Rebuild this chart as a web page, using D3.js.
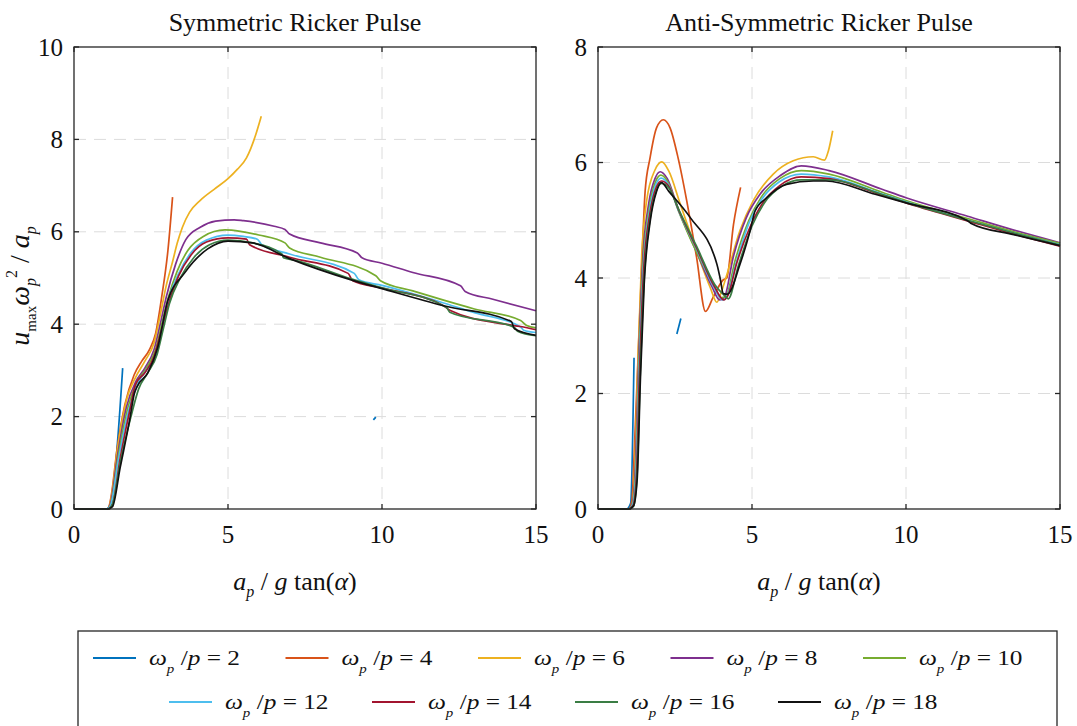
<!DOCTYPE html>
<html lang="en">
<head>
<meta charset="utf-8" />
<title>Ricker Pulse – u_max response</title>
<script src="https://d3js.org/d3.v7.min.js"></script>
<style>
  body { margin: 0; background: #fff; }
  svg { display: block; font-family: "Liberation Serif", "Times New Roman", serif; }
  .grid line { stroke: #dcdcdc; stroke-width: 1; stroke-dasharray: 12, 8; }
  .frame { fill: none; stroke: #262626; stroke-width: 1.3; }
  .tick { stroke: #262626; stroke-width: 1.3; }
  .series { fill: none; stroke-width: 1.7; stroke-linejoin: round; }
</style>
</head>
<body>
<div id="chart"></div>
<script>
/* ----------------------------- DATA ----------------------------- */
const ratios = [2, 4, 6, 8, 10, 12, 14, 16, 18];
const colors = ['#0072BD', '#D95319', '#EDB120', '#7E2F8E', '#77AC30',
                '#4DBEEE', '#A2142F', '#3A7D44', '#111111'];
const xTicks = [0, 5, 10, 15];
const symYTicks = [0, 2, 4, 6, 8, 10];
const antiYTicks = [0, 2, 4, 6, 8];

// Symmetric Ricker pulse  (null = gap in the curve)
const symW2 = [[0,0],[1.05,0],[1.2,0.15],[1.58,3.05],null,[9.72,1.93],[9.8,1.99]];
const symW4 = [[0,0],[1.1,0],[1.2,0.25],[1.4,1.3],[1.65,2.25],[1.95,2.9],[2.2,3.2],[2.45,3.45],
  [2.65,3.8],[2.85,4.6],[3.05,5.6],[3.2,6.75]];
const symW6 = [[0,0],[1.1,0],[1.2,0.2],[1.4,1.25],[1.7,2.35],[2.0,2.85],[2.3,3.2],[2.6,3.6],
  [2.8,4.2],[3.0,4.85],[3.2,5.35],[3.35,5.75],[3.52,6.1],[3.75,6.42],[4.1,6.68],[4.55,6.92],
  [5.0,7.15],[5.3,7.35],[5.6,7.6],[5.9,8.1],[6.08,8.5]];
const symW8 = [[0,0],[1.1,0],[1.2,0.15],[1.4,1.1],[1.7,2.2],[2.0,2.75],[2.3,3.05],[2.6,3.45],
  [2.8,4.0],[3.0,4.6],[3.3,5.3],[3.63,5.83],[4.1,6.1],[4.6,6.23],[5.2,6.26],[5.5,6.24],
  [6.5,6.12],[6.85,6.05],[7.0,5.95],[8.0,5.76],[9.2,5.54],[9.35,5.44],[10,5.32],[11,5.12],
  [12.55,4.83],[12.7,4.71],[13.6,4.54],[15,4.29]];
const symW10 = [[0,0],[1.1,0],[1.2,0.1],[1.45,1.2],[1.75,2.2],[2.05,2.75],[2.35,3.05],[2.65,3.45],
  [2.85,4.0],[3.05,4.55],[3.35,5.15],[3.7,5.6],[4.2,5.9],[4.9,6.04],[5.4,6.01],[6.0,5.93],
  [6.85,5.76],[7.0,5.65],[8.0,5.45],[9.8,5.05],[9.95,4.94],[11,4.72],[12,4.52],[13,4.33],
  [14.5,4.08],[14.7,3.97],[15,3.92]];
const symW12 = [[0,0],[1.1,0],[1.2,0.1],[1.45,1.1],[1.8,2.2],[2.1,2.75],[2.4,3.05],[2.65,3.3],
  [2.85,3.9],[3.05,4.5],[3.4,5.1],[3.8,5.55],[4.3,5.82],[5.0,5.93],[5.5,5.9],[5.95,5.84],
  [6.1,5.72],[7,5.52],[9.1,5.1],[9.25,4.96],[10,4.84],[12,4.46],[13,4.25],[14.5,3.94],
  [14.6,3.87],[15,3.82]];
const symW14 = [[0,0],[1.1,0],[1.25,0.1],[1.5,1.1],[1.8,2.1],[2.0,2.7],[2.3,2.95],[2.6,3.3],
  [2.85,3.9],[3.1,4.5],[3.4,5.05],[3.8,5.5],[4.3,5.78],[5.0,5.87],[5.6,5.84],[5.7,5.72],
  [7,5.45],[8.9,5.1],[9.05,4.94],[10,4.78],[12,4.4],[12.2,4.3],[14,4.0],[14.5,3.95],[15,3.88]];
const symW16 = [[0,0],[1.1,0],[1.25,0.1],[1.5,1.0],[1.85,2.0],[2.1,2.6],[2.4,2.95],[2.7,3.35],
  [2.9,3.9],[3.1,4.45],[3.45,5.0],[3.9,5.45],[4.4,5.72],[5.0,5.82],[5.8,5.76],[6.75,5.52],
  [6.8,5.44],[7.2,5.38],[9,4.98],[10,4.79],[12.1,4.36],[12.2,4.26],[14.3,3.93],[14.4,3.85],[15,3.75]];
const symW18 = [[0,0],[1.1,0],[1.25,0.05],[1.5,0.9],[1.8,1.9],[1.96,2.5],[2.05,2.65],[2.4,2.95],
  [2.72,3.5],[3.04,4.5],[3.58,5.1],[4.34,5.63],[5.0,5.8],[5.8,5.76],[7,5.42],[9,4.96],
  [10,4.77],[12,4.4],[14.2,4.06],[14.3,3.9],[15,3.76]];

// Anti-symmetric Ricker pulse
const antiW2 = [[0,0],[0.92,0],[1.06,0.1],[1.17,2.62],null,[2.56,3.03],[2.69,3.3]];
const antiW4 = [[0,0],[1.0,0],[1.1,0.15],[1.2,1.3],[1.31,2.75],[1.42,4.2],[1.53,5.5],[1.69,6.08],
  [1.9,6.6],[2.12,6.74],[2.34,6.6],[2.6,6.08],[2.88,5.34],[3.2,4.36],[3.49,3.42],[3.74,3.67],
  [4.07,3.97],[4.18,4.0],[4.4,4.93],[4.63,5.57]];
const antiW6 = [[0,0],[1.0,0],[1.1,0.05],[1.2,0.8],[1.3,2.6],[1.42,4.4],[1.58,5.34],[1.85,5.87],
  [2.07,6.01],[2.3,5.85],[2.66,5.3],[3.2,4.47],[3.64,3.84],[3.86,3.58],[4.0,3.75],[4.18,4.05],
  [4.61,4.82],[5.04,5.34],[5.69,5.8],[6.34,6.03],[6.99,6.1],[7.35,6.04],[7.48,6.2],[7.62,6.55]];
const antiW8 = [[0,0],[1.0,0],[1.12,0.1],[1.22,0.8],[1.32,2.6],[1.45,4.3],[1.65,5.3],[1.85,5.72],
  [2.02,5.84],[2.25,5.72],[2.6,5.2],[3.2,4.45],[3.7,3.85],[3.95,3.62],[4.1,3.66],[4.39,4.36],
  [4.82,5.05],[5.26,5.45],[5.91,5.77],[6.6,5.94],[7.5,5.86],[9.2,5.54],[10,5.39],[12,5.07],
  [13.5,4.83],[15,4.61]];
const antiW10 = [[0,0],[1.0,0],[1.12,0.08],[1.23,0.7],[1.33,2.5],[1.46,4.2],[1.66,5.2],[1.87,5.67],
  [2.04,5.78],[2.25,5.68],[2.6,5.18],[3.2,4.45],[3.75,3.88],[4.0,3.66],[4.15,3.68],[4.45,4.3],
  [4.9,5.0],[5.3,5.4],[5.9,5.72],[6.6,5.86],[7.5,5.8],[9.2,5.49],[10,5.34],[12,5.03],
  [13.5,4.8],[15,4.6]];
const antiW12 = [[0,0],[1.0,0],[1.13,0.08],[1.24,0.7],[1.34,2.5],[1.47,4.15],[1.67,5.15],[1.88,5.62],
  [2.05,5.73],[2.27,5.63],[2.62,5.16],[3.2,4.5],[3.75,3.85],[4.05,3.62],[4.2,3.7],[4.48,4.25],
  [4.9,4.95],[5.3,5.35],[5.9,5.67],[6.6,5.8],[7.5,5.75],[9.2,5.46],[10,5.32],[12,5.0],
  [13.5,4.78],[15,4.58]];
const antiW14 = [[0,0],[1.0,0],[1.14,0.06],[1.25,0.6],[1.35,2.4],[1.48,4.1],[1.68,5.1],[1.9,5.58],
  [2.06,5.68],[2.28,5.6],[2.64,5.15],[3.2,4.52],[3.78,3.85],[4.08,3.62],[4.22,3.7],[4.5,4.25],
  [4.95,4.9],[5.35,5.3],[5.9,5.6],[6.6,5.75],[7.5,5.72],[9.2,5.44],[10,5.3],[12,4.99],
  [13.5,4.76],[15,4.55]];
const antiW16 = [[0,0],[1.0,0],[1.15,0.05],[1.27,0.6],[1.37,2.3],[1.5,4.0],[1.7,5.05],[1.9,5.52],
  [2.06,5.64],[2.3,5.56],[2.66,5.14],[3.2,4.55],[3.8,3.88],[4.1,3.7],[4.23,3.64],[4.55,4.2],
  [5.0,4.9],[5.4,5.3],[6.0,5.6],[6.6,5.7],[7.5,5.7],[9.2,5.45],[10,5.31],[12,5.0],
  [13.5,4.78],[15,4.57]];
const antiW18 = [[0,0],[1.0,0],[1.15,0.05],[1.27,0.5],[1.38,2.3],[1.5,3.9],[1.7,5.0],[1.9,5.5],
  [2.06,5.65],[2.3,5.5],[2.99,5.05],[3.86,4.24],[3.96,4.01],[4.07,3.73],[4.2,3.72],[4.61,4.24],
  [4.94,4.82],[5.1,5.16],[5.48,5.39],[6.12,5.62],[6.99,5.68],[7.4,5.68],[9,5.45],[10,5.3],
  [12,4.99],[12.1,4.95],[13.5,4.75],[15,4.56]];

const symSeries = [symW2, symW4, symW6, symW8, symW10, symW12, symW14, symW16, symW18];
const antiSeries = [antiW2, antiW4, antiW6, antiW8, antiW10, antiW12, antiW14, antiW16, antiW18];

/* ----------------------------- LAYOUT ----------------------------- */
const W = 1077, H = 726;
const svg = d3.select('#chart').append('svg')
  .attr('width', W).attr('height', H).attr('viewBox', [0, 0, W, H]);

const panels = [
  { title: 'Symmetric Ricker Pulse', left: 74, right: 536, yMax: 10, yTicks: symYTicks, series: symSeries },
  { title: 'Anti-Symmetric Ricker Pulse', left: 598, right: 1060, yMax: 8, yTicks: antiYTicks, series: antiSeries }
];
const plotTop = 47, plotBottom = 509, tickLen = 5;

// write a run of text pieces (italic / sub / sup) into a text element
function rich(textSel, parts) {
  parts.forEach(p => {
    textSel.append('tspan')
      .attr('dy', p.dy || 0)
      .attr('font-style', p.it ? 'italic' : 'normal')
      .attr('font-size', p.fs || null)
      .text(p.t);
  });
}

panels.forEach(P => {
  const x = d3.scaleLinear().domain([0, 15]).range([P.left, P.right]);
  const y = d3.scaleLinear().domain([0, P.yMax]).range([plotBottom, plotTop]);
  const g = svg.append('g');
  const cx = (P.left + P.right) / 2 - 10;

  // grid
  const grid = g.append('g').attr('class', 'grid');
  grid.selectAll('line.v').data(xTicks.slice(1, -1)).join('line').attr('class', 'v')
    .attr('x1', d => x(d)).attr('x2', d => x(d)).attr('y1', plotTop).attr('y2', plotBottom);
  grid.selectAll('line.h').data(P.yTicks.slice(1, -1)).join('line').attr('class', 'h')
    .attr('x1', P.left).attr('x2', P.right).attr('y1', d => y(d)).attr('y2', d => y(d));

  // curves
  const line = d3.line().defined(d => d).x(d => x(d[0])).y(d => y(d[1])).curve(d3.curveMonotoneX);
  g.selectAll('path.series').data(P.series).join('path')
    .attr('class', 'series')
    .attr('stroke', (d, i) => colors[i])
    .attr('d', d => line(d));

  // frame + inward ticks (all four sides)
  g.append('rect').attr('class', 'frame')
    .attr('x', P.left).attr('y', plotTop).attr('width', P.right - P.left).attr('height', plotBottom - plotTop);
  xTicks.forEach(t => {
    g.append('line').attr('class', 'tick').attr('x1', x(t)).attr('x2', x(t)).attr('y1', plotBottom).attr('y2', plotBottom - tickLen);
    g.append('line').attr('class', 'tick').attr('x1', x(t)).attr('x2', x(t)).attr('y1', plotTop).attr('y2', plotTop + tickLen);
  });
  P.yTicks.forEach(t => {
    g.append('line').attr('class', 'tick').attr('x1', P.left).attr('x2', P.left + tickLen).attr('y1', y(t)).attr('y2', y(t));
    g.append('line').attr('class', 'tick').attr('x1', P.right).attr('x2', P.right - tickLen).attr('y1', y(t)).attr('y2', y(t));
  });

  // tick labels
  g.selectAll('text.xt').data(xTicks).join('text').attr('class', 'xt')
    .attr('x', d => x(d)).attr('y', plotBottom + 34)
    .attr('text-anchor', 'middle').attr('font-size', 25).attr('fill', '#111')
    .text(d => d);
  g.selectAll('text.yt').data(P.yTicks).join('text').attr('class', 'yt')
    .attr('x', P.left - 11).attr('y', d => y(d) + 8.5)
    .attr('text-anchor', 'end').attr('font-size', 25).attr('fill', '#111')
    .text(d => d);

  // title
  g.append('text').attr('x', cx).attr('y', 31)
    .attr('text-anchor', 'middle').attr('font-size', 26).attr('fill', '#111')
    .text(P.title);

  // x label
  const xl = g.append('text').attr('x', cx).attr('y', 590)
    .attr('text-anchor', 'middle').attr('font-size', 26).attr('fill', '#111');
  rich(xl, [
    { t: 'a', it: true },
    { t: 'p', it: true, fs: 16, dy: 7 },
    { t: ' / ', dy: -7 },
    { t: 'g', it: true },
    { t: ' tan(' },
    { t: 'α', it: true },
    { t: ')' }
  ]);
});

// y label (left panel only)
const yl = svg.append('text')
  .attr('transform', 'translate(29,286) rotate(-90)')
  .attr('text-anchor', 'middle').attr('font-size', 28).attr('fill', '#111');
rich(yl, [
  { t: 'u', it: true },
  { t: 'max', fs: 15, dy: 7 },
  { t: 'ω', it: true, dy: -7 },
  { t: 'p', it: true, fs: 16, dy: 7 },
  { t: '2', fs: 16, dy: -19 },
  { t: ' / ', dy: 12 },
  { t: 'a', it: true },
  { t: 'p', it: true, fs: 16, dy: 7 }
]);

/* ----------------------------- LEGEND ----------------------------- */
svg.append('rect')
  .attr('x', 78).attr('y', 631).attr('width', 979).attr('height', 120)
  .attr('fill', '#fff').attr('stroke', '#262626').attr('stroke-width', 1.3);

const legendRows = [ratios.slice(0, 5), ratios.slice(5)];
legendRows.forEach((row, ri) => {
  const x0 = ri === 0 ? 93 : 169, step = ri === 0 ? 192.5 : 203, ly = ri === 0 ? 658 : 702;
  row.forEach((r, k) => {
    const idx = ratios.indexOf(r);
    const lx = x0 + k * step;
    svg.append('line')
      .attr('x1', lx).attr('x2', lx + 43).attr('y1', ly).attr('y2', ly)
      .attr('stroke', colors[idx]).attr('stroke-width', 1.8);
    const t = svg.append('text')
      .attr('transform', `translate(${lx + 56},${ly + 7}) scale(1.15,1)`)
      .attr('font-size', 22).attr('fill', '#111');
    rich(t, [
      { t: 'ω', it: true },
      { t: 'p', it: true, fs: 13, dy: 8 },
      { t: ' /', dy: -8 },
      { t: 'p', it: true },
      { t: ' = ' + r }
    ]);
  });
});
</script>
</body>
</html>
